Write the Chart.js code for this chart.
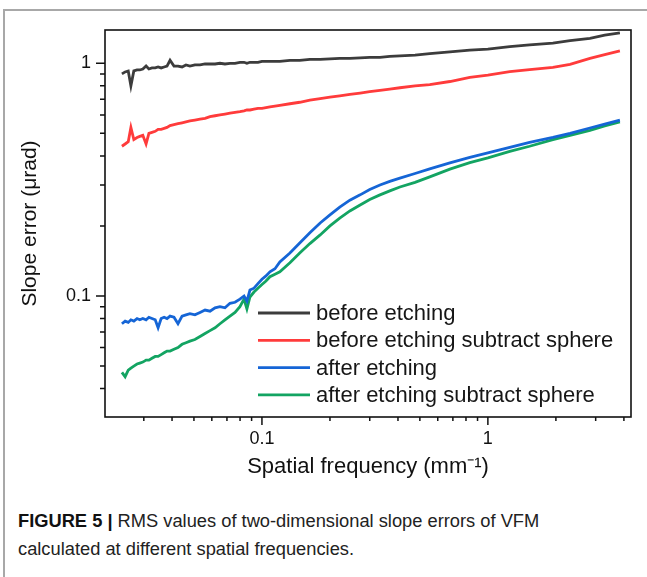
<!DOCTYPE html>
<html>
<head>
<meta charset="utf-8">
<script src="https://cdn.jsdelivr.net/npm/chart.js@4.4.1/dist/chart.umd.min.js"></script>
<style>
  html, body { margin: 0; padding: 0; background: #fff; }
  body { width: 647px; height: 577px; position: relative; overflow: hidden; font-family: "Liberation Sans", Arial, sans-serif; }
  #frame { position: absolute; left: 3px; top: 9px; width: 700px; height: 600px; border-top: 2px solid #a8a8a8; border-left: 2px solid #a8a8a8; }
  #chartBox { position: absolute; left: 0; top: 0; width: 647px; height: 490px; }
  #caption { position: absolute; left: 18px; top: 507px; width: 625px; font-size: 18.3px; line-height: 28px; color: #222; }
  #caption b { color: #111; }
</style>
</head>
<body>
<div id="frame"></div>
<div id="chartBox"><canvas id="slopeChart"></canvas></div>
<div id="caption"><b>FIGURE 5 |</b> RMS values of two-dimensional slope errors of VFM<br>calculated at different spatial frequencies.</div>

<script>
// ===========================
// DATA
// ===========================

// spatial frequency (mm^-1)
const frequencies = [
  0.0240, 0.0248, 0.0256, 0.0263, 0.0271, 0.0280, 0.0288, 0.0297, 0.0307, 0.0316,
  0.0326, 0.0337, 0.0347, 0.0358, 0.0369, 0.0380, 0.0392, 0.0408, 0.0425, 0.0443,
  0.0461, 0.0480, 0.0505, 0.0532, 0.0560, 0.0589, 0.0620, 0.0652, 0.0686, 0.0722,
  0.0760, 0.0799, 0.0833, 0.0858, 0.0885, 0.0922, 0.0960, 0.1000, 0.1042, 0.1085,
  0.1142, 0.120, 0.133, 0.147, 0.163, 0.181, 0.200, 0.221, 0.245, 0.272,
  0.300, 0.333, 0.368, 0.408, 0.476, 0.553, 0.679, 0.832, 1.00, 1.25,
  1.53, 1.94, 2.31, 2.83, 3.29, 3.84,
];

// slope error (µrad)
const beforeEtching = [
  0.900, 0.918, 0.927, 0.800, 0.927, 0.936, 0.936, 0.945, 0.973, 0.945,
  0.955, 0.955, 0.964, 0.955, 0.964, 0.973, 1.030, 0.973, 0.973, 0.964,
  0.984, 0.973, 0.984, 0.984, 0.993, 0.993, 0.993, 1.000, 0.993, 1.000,
  1.000, 1.010, 1.010, 1.000, 1.010, 1.010, 1.010, 1.020, 1.020, 1.020,
  1.020, 1.020, 1.030, 1.030, 1.040, 1.040, 1.045, 1.050, 1.050, 1.055,
  1.060, 1.060, 1.070, 1.075, 1.085, 1.100, 1.120, 1.140, 1.150, 1.180,
  1.200, 1.220, 1.250, 1.280, 1.320, 1.350,
];

const beforeEtchingSphere = [
  0.440, 0.450, 0.460, 0.530, 0.470, 0.480, 0.485, 0.490, 0.450, 0.500,
  0.505, 0.510, 0.520, 0.520, 0.525, 0.530, 0.540, 0.545, 0.550, 0.555,
  0.560, 0.565, 0.570, 0.575, 0.580, 0.590, 0.595, 0.600, 0.605, 0.610,
  0.615, 0.620, 0.625, 0.630, 0.630, 0.635, 0.640, 0.640, 0.645, 0.650,
  0.655, 0.660, 0.670, 0.680, 0.695, 0.705, 0.715, 0.725, 0.735, 0.745,
  0.755, 0.765, 0.775, 0.785, 0.800, 0.810, 0.835, 0.870, 0.890, 0.920,
  0.940, 0.960, 0.990, 1.050, 1.090, 1.130,
];

const afterEtching = [
  0.076, 0.078, 0.077, 0.079, 0.078, 0.080, 0.079, 0.080, 0.079, 0.081,
  0.080, 0.079, 0.073, 0.080, 0.081, 0.080, 0.082, 0.081, 0.076, 0.082,
  0.083, 0.084, 0.083, 0.085, 0.087, 0.086, 0.089, 0.090, 0.089, 0.093,
  0.094, 0.097, 0.100, 0.095, 0.106, 0.108, 0.113, 0.118, 0.122, 0.127,
  0.131, 0.140, 0.153, 0.169, 0.187, 0.206, 0.223, 0.241, 0.258, 0.272,
  0.287, 0.300, 0.311, 0.321, 0.336, 0.352, 0.373, 0.394, 0.412, 0.435,
  0.457, 0.480, 0.500, 0.527, 0.548, 0.570,
];

const afterEtchingSphere = [
  0.047, 0.045, 0.048, 0.049, 0.050, 0.051, 0.0515, 0.052, 0.053, 0.053,
  0.054, 0.055, 0.055, 0.056, 0.057, 0.058, 0.058, 0.059, 0.060, 0.062,
  0.063, 0.064, 0.065, 0.067, 0.069, 0.071, 0.073, 0.076, 0.079, 0.082,
  0.085, 0.090, 0.097, 0.088, 0.099, 0.104, 0.108, 0.112, 0.116, 0.121,
  0.124, 0.127, 0.139, 0.153, 0.168, 0.183, 0.200, 0.216, 0.232, 0.246,
  0.260, 0.272, 0.283, 0.294, 0.308, 0.325, 0.351, 0.374, 0.392, 0.418,
  0.440, 0.470, 0.490, 0.515, 0.538, 0.560,
];

const seriesLabels = [
  "before etching",
  "before etching subtract sphere",
  "after etching",
  "after etching subtract sphere",
];
const seriesColors = ["#3c3c3c", "#ff3b3b", "#1565d6", "#13a462"];

// tick positions on the log axes, labelled ones are the decades
const xTickValues = [0.03, 0.04, 0.05, 0.06, 0.07, 0.08, 0.09, 0.1, 0.2, 0.3, 0.4, 0.5, 0.6, 0.7, 0.8, 0.9, 1, 2, 3, 4];
const yTickValues = [0.04, 0.05, 0.06, 0.07, 0.08, 0.09, 0.1, 0.2, 0.3, 0.4, 0.5, 0.6, 0.7, 0.8, 0.9, 1];
const tickLabels = { 0.1: "0.1", 1: "1" };

// ===========================
// PLUGINS
// ===========================

function isDecade(v) {
  return Math.abs(Math.log10(v) - Math.round(Math.log10(v))) < 1e-6;
}

// plot frame + outward tick marks (long at decades, short otherwise)
const frameTicksPlugin = {
  id: "frameTicks",
  afterDraw(chart) {
    const { ctx, chartArea, scales } = chart;
    ctx.save();
    ctx.strokeStyle = "#111";
    ctx.lineWidth = 1.6;
    ctx.strokeRect(chartArea.left, chartArea.top, chartArea.right - chartArea.left, chartArea.bottom - chartArea.top);

    ctx.lineWidth = 1.5;
    ctx.beginPath();
    xTickValues.forEach((v) => {
      const px = scales.x.getPixelForValue(v);
      const len = isDecade(v) ? 8 : 4;
      ctx.moveTo(px, chartArea.bottom);
      ctx.lineTo(px, chartArea.bottom + len);
    });
    yTickValues.forEach((v) => {
      const py = scales.y.getPixelForValue(v);
      const len = isDecade(v) ? 9 : 5;
      ctx.moveTo(chartArea.left, py);
      ctx.lineTo(chartArea.left - len, py);
    });
    ctx.stroke();
    ctx.restore();
  },
};

// legend drawn inside the plot, lower right
const insideLegendPlugin = {
  id: "insideLegend",
  afterDatasetsDraw(chart) {
    const { ctx, chartArea } = chart;
    const x0 = chartArea.left + 153;
    const y0 = chartArea.top + 283;
    ctx.save();
    ctx.font = '22px "Liberation Sans", Arial, sans-serif';
    ctx.textBaseline = "middle";
    ctx.textAlign = "left";
    chart.data.datasets.forEach((ds, i) => {
      const y = y0 + i * 27.3;
      ctx.strokeStyle = ds.borderColor;
      ctx.lineWidth = 2.8;
      ctx.beginPath();
      ctx.moveTo(x0, y);
      ctx.lineTo(x0 + 52, y);
      ctx.stroke();
      ctx.fillStyle = "#161616";
      ctx.fillText(ds.label, x0 + 58, y + 1);
    });
    ctx.restore();
  },
};

// ===========================
// CHART
// ===========================

function buildDatasets() {
  const allValues = [beforeEtching, beforeEtchingSphere, afterEtching, afterEtchingSphere];
  return allValues.map((values, i) => ({
    label: seriesLabels[i],
    data: frequencies.map((f, j) => ({ x: f, y: values[j] })),
    borderColor: seriesColors[i],
    borderWidth: 2.8,
    pointRadius: 0,
    tension: 0,
    fill: false,
  }));
}

function initSlopeChart() {
  const ctx = document.getElementById("slopeChart");
  if (!ctx) return;

  const tickFont = { family: '"Liberation Sans", Arial, sans-serif', size: 18 };

  new Chart(ctx, {
    type: "line",
    data: { datasets: buildDatasets() },
    options: {
      responsive: true,
      maintainAspectRatio: false,
      animation: false,
      layout: { padding: { top: 30, right: 16, left: 0, bottom: 0 } },
      plugins: {
        legend: { display: false },
        tooltip: { enabled: false },
      },
      scales: {
        x: {
          type: "logarithmic",
          min: 0.0202,
          max: 4.3,
          afterBuildTicks: (scale) => {
            scale.ticks = xTickValues.map((v) => ({ value: v }));
          },
          afterFit: (scale) => {
            scale.height = 73;
          },
          ticks: {
            autoSkip: false,
            maxRotation: 0,
            padding: 11,
            color: "#111",
            font: tickFont,
            callback: (v) => tickLabels[v] || "",
          },
          grid: { drawOnChartArea: false, drawTicks: false },
          border: { display: false },
          title: {
            display: true,
            text: "Spatial frequency (mm⁻¹)",
            color: "#111",
            font: { family: '"Liberation Sans", Arial, sans-serif', size: 22 },
            padding: { top: 0, bottom: 10 },
          },
        },
        y: {
          type: "logarithmic",
          min: 0.0302,
          max: 1.39,
          afterBuildTicks: (scale) => {
            scale.ticks = yTickValues.map((v) => ({ value: v }));
          },
          afterFit: (scale) => {
            scale.width = 105;
          },
          ticks: {
            autoSkip: false,
            padding: 14,
            color: "#111",
            font: tickFont,
            callback: (v) => tickLabels[v] || "",
          },
          grid: { drawOnChartArea: false, drawTicks: false },
          border: { display: false },
          title: {
            display: true,
            text: "Slope error (μrad)",
            color: "#111",
            font: { family: '"Liberation Sans", Arial, sans-serif', size: 21 },
            padding: { top: 18, bottom: 0 },
          },
        },
      },
    },
    plugins: [frameTicksPlugin, insideLegendPlugin],
  });
}

document.addEventListener("DOMContentLoaded", initSlopeChart);
</script>
</body>
</html>
